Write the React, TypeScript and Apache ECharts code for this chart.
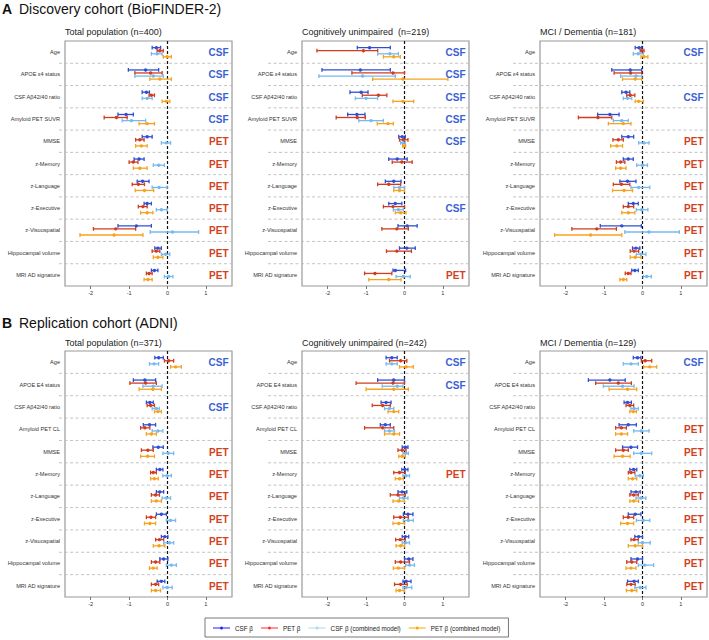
import React, { useEffect, useRef } from 'react';
import * as echarts from 'echarts';

type CI = [number, number, number] | null;

const FONT = '"Liberation Sans", Arial, Helvetica, sans-serif';

const rowsA = ['Age', 'APOE ε4 status', 'CSF Aβ42/40 ratio', 'Amyloid PET SUVR', 'MMSE', 'z-Memory', 'z-Language', 'z-Executive', 'z-Visuospatial', 'Hippocampal volume', 'MRI AD signature'];
const rowsB = ['Age', 'APOE E4 status', 'CSF Aβ42/40 ratio', 'Amyloid PET CL', 'MMSE', 'z-Memory', 'z-Language', 'z-Executive', 'z-Visuospatial', 'Hippocampal volume', 'MRI AD signature'];
const xTicks = [-2, -1, 0, 1];
const seriesNames = ['CSF β', 'PET β', 'CSF β (combined model)', 'PET β (combined model)'];

// ---------- A: BioFINDER-2, total population (n=400) ----------
const A_total_csf: CI[] = [[-0.40, -0.29, -0.18], [-1.02, -0.57, -0.23], [-0.66, -0.55, -0.47], [-1.29, -1.08, -0.89], [-0.66, -0.53, -0.40], [-0.87, -0.74, -0.61], [-0.79, -0.65, -0.48], [-0.61, -0.53, -0.42], [-1.29, -0.81, -0.42], [-0.33, -0.25, -0.16], [-0.42, -0.34, -0.25]];
const A_total_pet: CI[] = [[-0.27, -0.20, -0.11], [-0.85, -0.44, -0.14], [-0.48, -0.42, -0.34], [-1.65, -1.33, -1.05], [-0.83, -0.72, -0.61], [-1.00, -0.89, -0.77], [-0.92, -0.76, -0.60], [-0.76, -0.64, -0.53], [-1.93, -1.35, -0.83], [-0.40, -0.29, -0.20], [-0.55, -0.48, -0.40]];
const A_total_csfc: CI[] = [[-0.42, -0.27, -0.14], [-0.85, -0.37, -0.11], [-0.66, -0.53, -0.40], [-1.18, -0.94, -0.57], [-0.16, -0.03, 0.08], [-0.37, -0.23, -0.08], [-0.40, -0.22, -0.01], [-0.29, -0.16, -0.01], [-0.45, 0.13, 0.81], [-0.16, -0.05, 0.06], [-0.08, 0.03, 0.14]];
const A_total_petc: CI[] = [[-0.11, -0.01, 0.10], [-0.46, -0.20, 0.10], [-0.14, -0.03, 0.06], [-0.74, -0.53, -0.34], [-0.83, -0.68, -0.53], [-0.89, -0.72, -0.53], [-0.84, -0.60, -0.36], [-0.70, -0.53, -0.38], [-2.28, -1.39, -0.64], [-0.37, -0.25, -0.12], [-0.61, -0.51, -0.40]];
const A_total_tags = ['CSF', 'CSF', 'CSF', 'CSF', 'PET', 'PET', 'PET', 'PET', 'PET', 'PET', 'PET'];

// ---------- A: cognitively unimpaired (n=219) ----------
const A_cu_csf: CI[] = [[-1.23, -0.91, -0.37], [-2.15, -1.15, -0.37], [-1.42, -1.13, -0.95], [-1.48, -1.24, -1.03], [-0.15, -0.06, 0.02], [-0.41, -0.19, 0.07], [-0.50, -0.28, -0.09], [-0.41, -0.24, -0.07], [-0.17, 0.07, 0.33], [-0.13, 0.06, 0.28], [-0.30, -0.24, 0.03]];
const A_cu_pet: CI[] = [[-2.28, -1.07, -0.70], [-1.37, -0.30, 0.00], [-1.10, -0.68, -0.46], [-1.78, -1.23, -1.02], [-0.13, -0.03, 0.09], [-0.32, -0.07, 0.20], [-0.70, -0.41, -0.10], [-0.55, -0.30, 0.00], [-0.59, -0.20, 0.10], [-0.47, -0.20, 0.18], [-1.04, -0.77, -0.33]];
const A_cu_csfc: CI[] = [[-0.70, -0.38, -0.16], [-2.23, -1.09, -0.24], [-1.28, -1.00, -0.70], [-1.19, -0.87, -0.55], [-0.10, -0.04, 0.02], null, [-0.28, -0.13, 0.00], [-0.29, -0.16, -0.03], null, null, [-0.22, -0.03, 0.15]];
const A_cu_petc: CI[] = [[-0.55, -0.28, -0.11], [-0.83, -0.04, 1.13], [-0.30, -0.04, 0.24], [-0.71, -0.43, -0.29], [-0.05, -0.01, 0.03], null, [-0.28, -0.13, 0.00], [-0.24, -0.10, 0.04], null, null, [-0.93, -0.41, -0.09]];
const A_cu_tags = ['CSF', 'CSF', 'CSF', 'CSF', 'CSF', '', '', 'CSF', '', '', 'PET'];

// ---------- A: MCI / dementia (n=181) ----------
const A_mci_csf: CI[] = [[-0.19, -0.09, -0.02], [-0.80, -0.32, -0.02], [-0.54, -0.43, -0.33], [-1.17, -0.85, -0.61], [-0.54, -0.37, -0.23], [-0.50, -0.37, -0.24], [-0.59, -0.39, -0.17], [-0.37, -0.24, -0.11], [-1.10, -0.54, -0.03], [-0.26, -0.17, -0.07], [-0.28, -0.20, -0.11]];
const A_mci_pet: CI[] = [[-0.06, -0.02, 0.04], [-0.74, -0.31, -0.02], [-0.41, -0.32, -0.20], [-1.67, -1.16, -0.80], [-0.77, -0.63, -0.50], [-0.68, -0.57, -0.46], [-0.76, -0.55, -0.33], [-0.50, -0.37, -0.23], [-1.84, -1.19, -0.68], [-0.32, -0.22, -0.10], [-0.45, -0.37, -0.30]];
const A_mci_csfc: CI[] = [[-0.24, -0.11, 0.02], [-0.57, -0.17, -0.02], [-0.50, -0.39, -0.28], [-0.76, -0.54, -0.37], [-0.10, 0.04, 0.17], [-0.15, 0.00, 0.13], [-0.30, -0.10, 0.19], [-0.16, -0.02, 0.14], [-0.46, 0.17, 0.96], [-0.16, -0.04, 0.09], [0.02, 0.11, 0.23]];
const A_mci_petc: CI[] = [[-0.04, 0.04, 0.14], [-0.52, -0.19, -0.02], [-0.19, -0.10, 0.02], [-0.89, -0.50, -0.30], [-0.83, -0.67, -0.52], [-0.70, -0.57, -0.43], [-0.78, -0.48, -0.26], [-0.54, -0.37, -0.20], [-2.29, -1.35, -0.54], [-0.32, -0.19, -0.04], [-0.59, -0.50, -0.41]];
const A_mci_tags = ['CSF', '', 'CSF', '', 'PET', 'PET', 'PET', 'PET', 'PET', 'PET', 'PET'];

// ---------- B: ADNI, total population (n=371) ----------
const B_total_csf: CI[] = [[-0.33, -0.23, -0.11], [-0.89, -0.59, -0.31], [-0.55, -0.46, -0.37], [-0.63, -0.47, -0.31], [-0.38, -0.24, -0.11], [-0.29, -0.20, -0.12], [-0.29, -0.20, -0.10], [-0.29, -0.16, -0.03], [-0.16, -0.07, 0.01], [-0.20, -0.10, 0.01], [-0.27, -0.16, -0.07]];
const B_total_pet: CI[] = [[-0.08, 0.03, 0.16], [-0.98, -0.57, -0.29], [-0.53, -0.44, -0.34], [-0.70, -0.59, -0.46], [-0.68, -0.51, -0.37], [-0.44, -0.37, -0.29], [-0.42, -0.31, -0.21], [-0.55, -0.43, -0.31], [-0.31, -0.21, -0.10], [-0.42, -0.31, -0.20], [-0.42, -0.31, -0.23]];
const B_total_csfc: CI[] = [[-0.47, -0.35, -0.23], [-0.64, -0.37, -0.14], [-0.40, -0.29, -0.21], [-0.40, -0.25, -0.12], [-0.12, 0.02, 0.16], [-0.12, -0.01, 0.10], [-0.14, -0.03, 0.08], [-0.03, 0.08, 0.21], [-0.10, 0.05, 0.16], [-0.03, 0.10, 0.23], [-0.12, -0.01, 0.12]];
const B_total_petc: CI[] = [[0.08, 0.21, 0.36], [-0.74, -0.38, -0.16], [-0.34, -0.25, -0.16], [-0.55, -0.42, -0.29], [-0.70, -0.52, -0.34], [-0.44, -0.34, -0.24], [-0.42, -0.29, -0.16], [-0.60, -0.46, -0.31], [-0.37, -0.22, -0.07], [-0.47, -0.37, -0.27], [-0.42, -0.31, -0.18]];
const B_total_tags = ['CSF', '', 'CSF', '', 'PET', 'PET', 'PET', 'PET', 'PET', 'PET', 'PET'];

// ---------- B: cognitively unimpaired (n=242) ----------
const B_cu_csf: CI[] = [[-0.48, -0.33, -0.19], [-0.70, -0.28, 0.00], [-0.61, -0.48, -0.35], [-0.63, -0.50, -0.37], [-0.06, 0.02, 0.09], [-0.07, 0.01, 0.09], [-0.17, -0.06, 0.06], [-0.03, 0.09, 0.22], [-0.06, 0.02, 0.11], [0.00, 0.11, 0.22], [-0.04, 0.04, 0.17]];
const B_cu_pet: CI[] = [[-0.39, -0.10, 0.06], [-1.26, -0.30, 0.00], [-0.84, -0.57, -0.37], [-1.04, -0.57, -0.28], [-0.17, -0.06, 0.04], [-0.28, -0.13, 0.02], [-0.37, -0.17, 0.02], [-0.28, -0.11, 0.10], [-0.23, -0.11, 0.02], [-0.24, -0.10, 0.13], [-0.26, -0.10, 0.07]];
const B_cu_csfc: CI[] = [[-0.48, -0.33, -0.19], [-0.58, -0.19, -0.04], [-0.52, -0.39, -0.28], [-0.52, -0.39, -0.26], [-0.04, 0.03, 0.10], [-0.04, 0.04, 0.13], [-0.13, -0.03, 0.09], [-0.03, 0.10, 0.23], [-0.06, 0.03, 0.13], [0.03, 0.13, 0.26], [-0.04, 0.04, 0.19]];
const B_cu_petc: CI[] = [[-0.13, 0.04, 0.23], [-1.00, -0.28, 0.10], [-0.43, -0.28, -0.15], [-0.52, -0.28, -0.13], [-0.15, -0.06, 0.02], [-0.24, -0.13, -0.03], [-0.30, -0.15, 0.00], [-0.30, -0.15, 0.00], [-0.22, -0.10, 0.00], [-0.29, -0.16, 0.00], [-0.22, -0.13, 0.00]];
const B_cu_tags = ['CSF', 'CSF', '', '', '', 'PET', '', '', '', '', ''];

// ---------- B: MCI / dementia (n=129) ----------
const B_mci_csf: CI[] = [[-0.24, -0.13, -0.04], [-1.41, -0.85, -0.45], [-0.48, -0.39, -0.29], [-0.61, -0.37, -0.16], [-0.52, -0.30, -0.13], [-0.33, -0.23, -0.15], [-0.30, -0.17, -0.06], [-0.37, -0.19, -0.04], [-0.20, -0.10, 0.00], [-0.30, -0.13, 0.00], [-0.39, -0.22, -0.11]];
const B_mci_pet: CI[] = [[-0.03, 0.07, 0.24], [-1.22, -0.63, -0.29], [-0.43, -0.33, -0.23], [-0.70, -0.55, -0.42], [-0.70, -0.50, -0.37], [-0.37, -0.30, -0.20], [-0.33, -0.23, -0.11], [-0.50, -0.37, -0.23], [-0.30, -0.22, -0.11], [-0.41, -0.28, -0.15], [-0.41, -0.30, -0.19]];
const B_mci_csfc: CI[] = [[-0.50, -0.30, -0.11], [-1.02, -0.52, -0.22], [-0.30, -0.22, -0.11], [-0.23, -0.03, 0.17], [-0.23, -0.03, 0.24], [-0.19, -0.07, 0.02], [-0.17, -0.04, 0.09], [-0.16, 0.02, 0.19], [-0.11, 0.00, 0.20], [-0.11, 0.06, 0.29], [-0.20, -0.06, 0.09]];
const B_mci_petc: CI[] = [[0.03, 0.19, 0.37], [-0.87, -0.39, -0.15], [-0.33, -0.24, -0.16], [-0.70, -0.55, -0.39], [-0.74, -0.52, -0.32], [-0.37, -0.26, -0.15], [-0.33, -0.23, -0.10], [-0.57, -0.39, -0.23], [-0.37, -0.19, 0.00], [-0.43, -0.30, -0.17], [-0.42, -0.28, -0.15]];
const B_mci_tags = ['CSF', '', '', 'PET', 'PET', 'PET', 'PET', 'PET', 'PET', 'PET', 'PET'];

const panels = [
  { sub: 'Total population (n=400)', rows: rowsA, sets: [A_total_csf, A_total_pet, A_total_csfc, A_total_petc], tags: A_total_tags },
  { sub: 'Cognitively unimpaired\u00a0 (n=219)', rows: rowsA, sets: [A_cu_csf, A_cu_pet, A_cu_csfc, A_cu_petc], tags: A_cu_tags },
  { sub: 'MCI / Dementia (n=181)', rows: rowsA, sets: [A_mci_csf, A_mci_pet, A_mci_csfc, A_mci_petc], tags: A_mci_tags },
  { sub: 'Total population (n=371)', rows: rowsB, sets: [B_total_csf, B_total_pet, B_total_csfc, B_total_petc], tags: B_total_tags },
  { sub: 'Cognitively unimpaired (n=242)', rows: rowsB, sets: [B_cu_csf, B_cu_pet, B_cu_csfc, B_cu_petc], tags: B_cu_tags },
  { sub: 'MCI / Dementia (n=129)', rows: rowsB, sets: [B_mci_csf, B_mci_pet, B_mci_csfc, B_mci_petc], tags: B_mci_tags },
];

const COLORS = ['#2f4fd3', '#d23c1c', '#76b9ef', '#f6a21e'];
const LEGEND_COLORS = ['#1f1fff', '#ff2a2a', '#add8e6', '#ffa500'];
const OFFSETS = [-0.2, -0.065, 0.075, 0.21];
const TAG_COLORS: Record<string, string> = { CSF: '#3b5fd6', PET: '#d2401e' };

const GRID_LEFT = [65, 302, 540];
const GRID_TOP = [41, 351];
const GRID_H = [245, 246];
const GRID_W = 167;
const SEP_EXT = [6, 34, 27];

function buildOption() {
  const grid: any[] = [];
  const xAxis: any[] = [];
  const yAxis: any[] = [];
  const series: any[] = [];
  const graphic: any[] = [];

  panels.forEach((p, pi) => {
    const col = pi % 3;
    const row = Math.floor(pi / 3);
    grid.push({
      left: GRID_LEFT[col], top: GRID_TOP[row], width: GRID_W, height: GRID_H[row],
      show: true, borderColor: '#9a9a9a', borderWidth: 1.2, backgroundColor: 'transparent',
      containLabel: false, outerBoundsMode: 'none',
    });
    xAxis.push({
      type: 'value', gridIndex: pi, min: -2.67, max: 1.68,
      axisLine: { show: false },
      axisTick: { show: true, customValues: xTicks, length: 3, lineStyle: { color: '#555', width: 0.8 } },
      axisLabel: { customValues: xTicks, fontSize: 5.6, color: '#333', margin: 4, fontFamily: FONT },
      splitLine: { show: false },
    });
    yAxis.push({
      type: 'category', gridIndex: pi, data: p.rows, inverse: true,
      axisLine: { show: false }, axisTick: { show: false }, splitLine: { show: false },
      axisLabel: { fontSize: 5.6, color: '#333', margin: 5, fontFamily: FONT },
    });

    const ext = SEP_EXT[col];
    // separators + zero line
    series.push({
      type: 'custom', xAxisIndex: pi, yAxisIndex: pi, silent: true, z: 1,
      data: p.rows.slice(0, p.rows.length - 1).map((_, i) => [0, i]),
      renderItem: (params: any, api: any) => {
        const cs = params.coordSys;
        const i = api.value(1);
        const c = api.coord([0, i]);
        const band = api.size([0, 1])[1];
        const y = c[1] + band / 2;
        const children: any[] = [
          { type: 'line', shape: { x1: cs.x - ext, y1: y, x2: cs.x + cs.width, y2: y }, style: { stroke: '#bdbdbd', lineWidth: 0.9, lineDash: [3, 2.5] } },
        ];
        if (i === 0) {
          children.push({ type: 'line', shape: { x1: c[0], y1: cs.y, x2: c[0], y2: cs.y + cs.height }, style: { stroke: '#111', lineWidth: 1.2, lineDash: [3, 2] } });
        }
        return { type: 'group', children };
      },
    });
    // CSF / PET tags
    const tags = p.tags;
    series.push({
      type: 'custom', xAxisIndex: pi, yAxisIndex: pi, silent: true, z: 3,
      data: tags.map((t, i) => [0, i]).filter((_, i) => tags[i] !== ''),
      renderItem: (params: any, api: any) => {
        const cs = params.coordSys;
        const i = api.value(1);
        const c = api.coord([0, i]);
        const t = tags[i];
        return {
          type: 'text',
          style: {
            text: t, x: cs.x + cs.width - 3.5, y: c[1] + 0.5,
            align: 'right', verticalAlign: 'middle', textAlign: 'right', textVerticalAlign: 'middle',
            fill: TAG_COLORS[t], font: `bold 10px ${FONT}`,
          },
        };
      },
    });
    // error bars
    p.sets.forEach((set, si) => {
      const off = OFFSETS[si];
      const data = set.map((v, i) => (v ? [v[0], v[1], v[2], i] : null)).filter((d) => d !== null);
      series.push({
        type: 'custom', name: seriesNames[si], xAxisIndex: pi, yAxisIndex: pi, z: 2 + si * 0.01,
        itemStyle: { color: COLORS[si] },
        encode: { x: [0, 1, 2], y: 3 },
        data,
        renderItem: (params: any, api: any) => {
          const lo = api.value(0), est = api.value(1), hi = api.value(2), cat = api.value(3);
          const c = api.coord([est, cat]);
          const band = api.size([0, 1])[1];
          const y = c[1] + off * band;
          const xl = api.coord([lo, cat])[0];
          const xh = api.coord([hi, cat])[0];
          const color = COLORS[si];
          const st = { stroke: color, lineWidth: 1.3 };
          return {
            type: 'group',
            children: [
              { type: 'line', shape: { x1: xl, y1: y, x2: xh, y2: y }, style: st },
              { type: 'line', shape: { x1: xl, y1: y - 1.9, x2: xl, y2: y + 1.9 }, style: st },
              { type: 'line', shape: { x1: xh, y1: y - 1.9, x2: xh, y2: y + 1.9 }, style: st },
              { type: 'circle', shape: { cx: c[0], cy: y, r: 1.7 }, style: { fill: color } },
            ],
          };
        },
      });
    });

    // subtitle
    graphic.push({
      type: 'text', x: GRID_LEFT[col], y: row === 0 ? 32 : 343,
      style: { text: p.sub, font: `9px ${FONT}`, fill: '#222', textVerticalAlign: 'middle', verticalAlign: 'middle' },
    });
  });

  // headers
  const headers = [
    { letter: 'A', text: 'Discovery cohort (BioFINDER-2)', y: 9 },
    { letter: 'B', text: 'Replication cohort (ADNI)', y: 323 },
  ];
  headers.forEach((h) => {
    graphic.push({ type: 'text', x: 2, y: h.y, style: { text: h.letter, font: `bold 14px ${FONT}`, fill: '#111', textVerticalAlign: 'middle', verticalAlign: 'middle' } });
    graphic.push({ type: 'text', x: 19, y: h.y, style: { text: h.text, font: `14px ${FONT}`, fill: '#111', textVerticalAlign: 'middle', verticalAlign: 'middle' } });
  });

  return {
    animation: false,
    backgroundColor: '#ffffff',
    textStyle: { fontFamily: FONT },
    grid, xAxis, yAxis, series, graphic,
    legend: {
      left: 205, top: 618, orient: 'horizontal',
      padding: [7, 8, 6, 8], itemGap: 8, itemWidth: 17, itemHeight: 4,
      borderColor: '#555', borderWidth: 0.8, selectedMode: false,
      icon: 'path://M0,1.6H17V2.4H0Z M8.5,0.5A1.5,1.5,0,1,1,8.5,3.5A1.5,1.5,0,1,1,8.5,0.5Z',
      textStyle: { fontSize: 6.3, color: '#222', fontFamily: FONT },
      data: seriesNames.map((n, i) => ({ name: n, itemStyle: { color: LEGEND_COLORS[i] } })),
    },
  };
}

export default function App() {
  const ref = useRef<HTMLDivElement>(null);
  useEffect(() => {
    if (!ref.current) return;
    const chart = echarts.init(ref.current, null, { renderer: 'svg' });
    chart.setOption(buildOption() as any);
    return () => chart.dispose();
  }, []);
  return <div ref={ref} style={{ position: 'absolute', left: 0, top: 0, width: 709, height: 640 }} />;
}
